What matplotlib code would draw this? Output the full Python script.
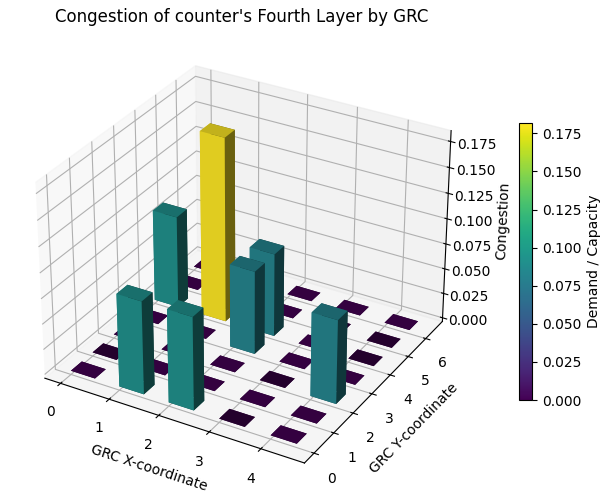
import numpy as np
import matplotlib
matplotlib.use("Agg")
import matplotlib.pyplot as plt
from matplotlib import cm, colors
from matplotlib.ticker import MultipleLocator

x_ticks = [0, 1, 2, 3, 4]
y_ticks = [0, 1, 2, 3, 4, 5, 6]
# rows: x index, columns: y index
congestion = [
    [0, 0, 0, 0, 0.091, 0, 0],
    [0.091, 0, 0, 0, 0.1816, 0, 0],
    [0.091, 0, 0, 0.082, 0.082, 0, 0],
    [0, 0, 0, 0, 0, 0, 0],
    [0, 0, 0.082, 0, 0, 0, 0],
]

Z = np.array(congestion, dtype=float)
xx, yy = np.meshgrid(x_ticks, y_ticks, indexing="ij")
xs, ys, zs = xx.ravel().astype(float), yy.ravel().astype(float), Z.ravel()

norm = colors.Normalize(0, zs.max())
cmap = plt.get_cmap("viridis")

fig = plt.figure(figsize=(6.11, 5.04), dpi=100)
ax = fig.add_axes([-0.03, 0.0235, 0.849, 0.917], projection="3d")
ax.bar3d(xs, ys, np.zeros_like(zs), 0.5, 0.5, zs, color=cmap(norm(zs)), shade=True)
ax.set_xticks(x_ticks)
ax.set_yticks(y_ticks)
ax.zaxis.set_major_locator(MultipleLocator(0.025))
ax.set_xlabel("GRC X-coordinate")
ax.set_ylabel("GRC Y-coordinate")
ax.set_zlabel("Congestion")
fig.text(0.395, 0.967, "Congestion of counter's Fourth Layer by GRC", ha="center", va="center", fontsize=12)

sm = cm.ScalarMappable(norm=norm, cmap=cmap)
cax = fig.add_axes([0.85, 0.2063, 0.0213, 0.549])
cb = fig.colorbar(sm, cax=cax)
cb.locator = MultipleLocator(0.025)
cb.update_ticks()
cb.set_label("Demand / Capacity")
fig.savefig("out.png", dpi=100)
